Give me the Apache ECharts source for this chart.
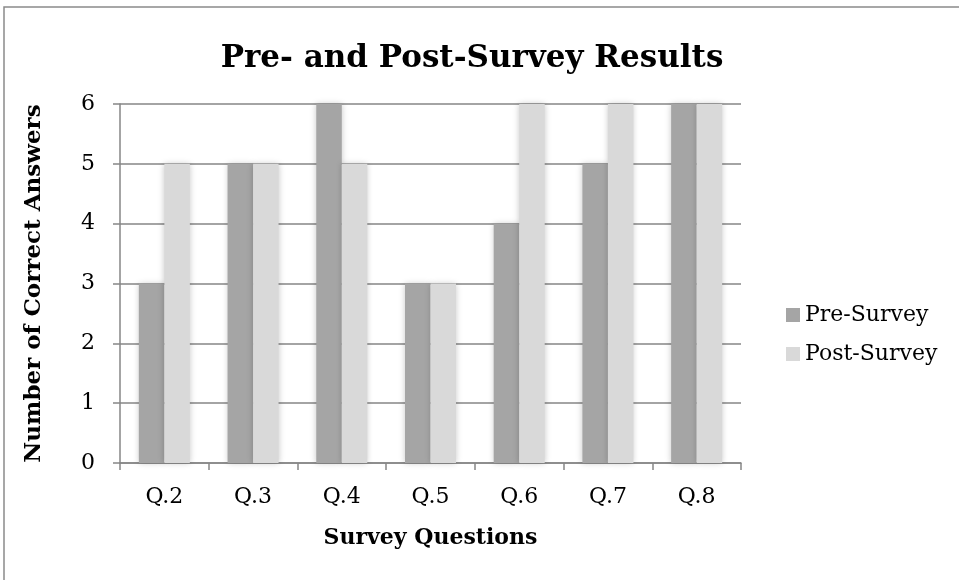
<!DOCTYPE html>
<html><head><meta charset="utf-8">
<script src="https://cdn.jsdelivr.net/npm/echarts@6/dist/echarts.min.js"></script>
<style>html,body{margin:0;padding:0;background:#fff}#c{width:959px;height:580px}</style>
</head><body><div id="c"></div>
<script>
const categories = ['Q.2','Q.3','Q.4','Q.5','Q.6','Q.7','Q.8'];
const preSurvey = [3,5,6,3,4,5,6];
const postSurvey = [5,5,5,3,6,6,6];
const yTicks = {min:0, max:6, interval:1};
const FONT = 'DejaVu Serif';

const chart = echarts.init(document.getElementById('c'));
const shadow = {shadowBlur:6, shadowColor:'rgba(0,0,0,0.22)', shadowOffsetX:0, shadowOffsetY:0};
chart.setOption({
  animation:false,
  backgroundColor:'#fff',
  graphic:[{type:'rect', shape:{x:4,y:7,width:1200,height:1000}, style:{fill:'none', stroke:'#8a8a8a', lineWidth:1.5}, silent:true}],
  title:{text:'Pre- and Post-Survey Results', left:467, textAlign:'center', top:38,
    textStyle:{fontFamily:FONT, fontSize:31, fontWeight:'bold', color:'#000'}},
  legend:{orient:'vertical', left:781, top:299, itemWidth:14, itemHeight:14, itemGap:17,
    icon:'rect', textStyle:{fontFamily:FONT, fontSize:22, color:'#000', padding:[0,0,0,0]},
    data:['Pre-Survey','Post-Survey']},
  grid:{left:120, right:218, top:104, bottom:117},
  xAxis:{type:'category', data:categories,
    name:'Survey Questions', nameLocation:'middle', nameGap:64,
    nameTextStyle:{fontFamily:FONT, fontSize:22, fontWeight:'bold', color:'#000'},
    axisLine:{lineStyle:{color:'#868686', width:1.5}},
    axisTick:{show:true, length:7, lineStyle:{color:'#868686', width:1.5}},
    axisLabel:{fontFamily:FONT, fontSize:22, color:'#000', margin:23}},
  yAxis:{type:'value', min:yTicks.min, max:yTicks.max, interval:yTicks.interval,
    name:'Number of Correct Answers', nameLocation:'middle', nameGap:74,
    nameTextStyle:{fontFamily:FONT, fontSize:23, fontWeight:'bold', color:'#000'},
    axisLine:{show:true, lineStyle:{color:'#868686', width:1.5}},
    axisTick:{show:true, length:7, lineStyle:{color:'#868686', width:1.5}},
    axisLabel:{fontFamily:FONT, fontSize:22, color:'#000', margin:25, padding:[4,0,0,0]},
    splitLine:{lineStyle:{color:'#868686', width:1.5}}},
  series:[
    {name:'Pre-Survey', type:'bar', data:preSurvey, barWidth:25.5, barGap:'0%',
      itemStyle:Object.assign({color:'#a5a5a5'}, shadow)},
    {name:'Post-Survey', type:'bar', data:postSurvey, barWidth:25.5, barGap:'0%',
      itemStyle:Object.assign({color:'#d9d9d9'}, shadow)}
  ]
});
</script></body></html>
